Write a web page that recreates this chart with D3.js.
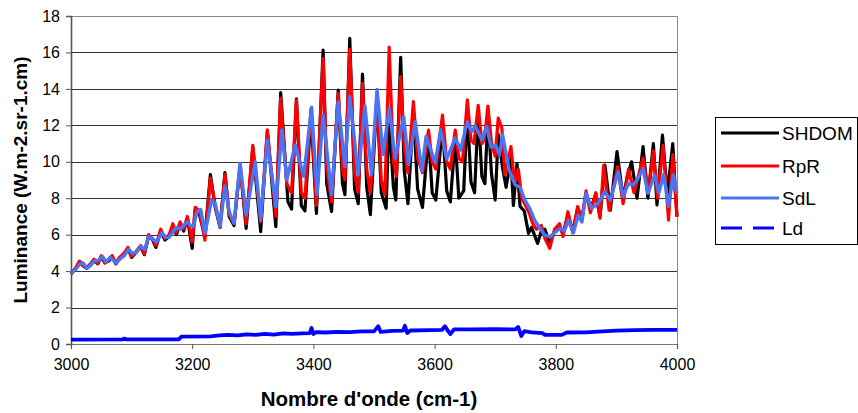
<!DOCTYPE html>
<html><head><meta charset="utf-8">
<script src="https://cdn.jsdelivr.net/npm/d3@7"></script>
<style>body{margin:0;background:#fff}svg{display:block}text{font-family:"Liberation Sans",Arial,sans-serif}</style>
</head><body><svg id="c" width="858" height="413"></svg>
<script>
const xTicks = [3000, 3200, 3400, 3600, 3800, 4000];
const yTicks = [0, 2, 4, 6, 8, 10, 12, 14, 16, 18];
const seriesNames = ["SHDOM", "RpR", "SdL", "Ld"];
const seriesColors = ["#000000", "#ff0000", "#4a74f2", "#0000ff"];

const shdom = [[3000,3.85],[3008,4.15],[3014,4.5],[3020,4.3],[3026,4.15],[3032,4.35],[3038,4.55],[3044,4.4],[3050,4.75],[3056,4.45],[3062,4.55],[3068,4.75],[3074,4.4],[3080,4.7],[3088,4.9],[3094,5.25],[3100,4.75],[3108,5.05],[3115,5.35],[3121,4.9],[3128,5.9],[3134,5.75],[3140,5.3],[3148,6.2],[3155,5.7],[3162,5.9],[3168,6.5],[3174,6.0],[3180,6.6],[3186,6.2],[3192,6.9],[3200,5.25],[3205,7.4],[3212,7.1],[3221,5.9],[3230,9.3],[3238,7.5],[3246,6.4],[3254,9.4],[3261,7.0],[3269,6.5],[3279,9.8],[3289,6.35],[3300,10.8],[3313,6.17],[3324,11.66],[3338,6.44],[3346,13.8],[3358,7.8],[3364,7.4],[3372,13.46],[3380,7.6],[3386,7.3],[3396,12.6],[3405,7.17],[3416,16.13],[3422,8.8],[3430,7.27],[3441,13.94],[3448,8.8],[3452,8.2],[3460,16.78],[3468,8.5],[3474,7.7],[3481,14.81],[3488,8.6],[3494,7.1],[3505,13.6],[3512,8.3],[3520,7.45],[3525,12.5],[3532,8.6],[3536,7.9],[3544,15.73],[3550,9.5],[3556,7.7],[3565,12.7],[3572,8.5],[3580,7.5],[3590,11.5],[3596,8.3],[3602,7.9],[3613,12.0],[3620,8.4],[3626,7.8],[3634,11.3],[3640,8.0],[3648,8.4],[3654,12.8],[3660,8.9],[3666,8.3],[3672,12.8],[3678,9.2],[3683,8.8],[3688,12.6],[3694,9.3],[3700,7.9],[3705,11.5],[3712,9.7],[3718,8.6],[3726,10.2],[3730,7.6],[3736,9.9],[3741,7.55],[3748,7.3],[3755,6.07],[3760,6.4],[3770,5.52],[3776,6.2],[3782,6.3],[3790,5.5],[3798,6.2],[3806,6.5],[3812,6.1],[3820,7.0],[3828,6.2],[3836,7.4],[3843,6.8],[3850,8.3],[3857,7.4],[3866,8.2],[3873,7.0],[3881,9.82],[3890,7.34],[3901,10.56],[3911,8.0],[3918,9.2],[3925,10.0],[3934,8.0],[3944,10.83],[3952,8.0],[3961,11.0],[3967,7.63],[3976,11.47],[3984,8.2],[3993,11.0],[3998,8.0],[4000,7.0]];

const rpr = [[3000,3.85],[3008,4.2],[3014,4.55],[3020,4.3],[3026,4.2],[3032,4.4],[3038,4.65],[3044,4.4],[3050,4.85],[3056,4.45],[3062,4.6],[3068,4.85],[3074,4.45],[3080,4.75],[3088,5.0],[3094,5.3],[3100,4.8],[3108,5.1],[3115,5.4],[3121,4.95],[3128,6.0],[3134,5.8],[3140,5.4],[3148,6.3],[3155,5.8],[3162,6.0],[3168,6.6],[3174,6.1],[3180,6.7],[3186,6.3],[3192,7.0],[3200,5.6],[3205,7.5],[3212,7.3],[3221,5.7],[3230,9.1],[3238,7.6],[3246,6.4],[3254,9.3],[3261,7.1],[3269,6.6],[3279,9.7],[3289,6.6],[3300,10.9],[3313,6.7],[3324,11.75],[3338,7.0],[3346,13.5],[3356,8.8],[3364,8.3],[3372,13.4],[3380,8.3],[3386,8.0],[3396,12.9],[3405,7.6],[3416,15.68],[3422,9.6],[3430,7.8],[3441,13.75],[3448,9.6],[3452,9.0],[3460,16.17],[3468,9.4],[3474,8.3],[3481,14.3],[3488,9.6],[3494,8.3],[3505,13.4],[3512,9.0],[3518,8.2],[3525,16.3],[3532,10.0],[3537,9.2],[3544,14.67],[3550,10.8],[3556,9.4],[3565,13.3],[3572,10.2],[3580,9.4],[3590,11.74],[3596,10.0],[3602,9.6],[3613,12.56],[3620,10.0],[3626,9.6],[3634,11.74],[3640,10.2],[3646,10.0],[3654,13.4],[3660,11.2],[3665,11.0],[3672,13.1],[3678,11.0],[3682,11.2],[3688,13.06],[3694,11.0],[3700,10.3],[3705,12.4],[3711,11.84],[3716,9.3],[3726,10.83],[3732,8.8],[3738,9.6],[3744,8.0],[3750,7.6],[3756,7.2],[3762,6.6],[3768,6.3],[3776,6.5],[3782,5.8],[3790,5.25],[3798,6.3],[3806,6.6],[3812,5.9],[3820,7.26],[3828,6.1],[3836,7.54],[3843,6.9],[3850,8.4],[3857,7.2],[3866,8.3],[3873,6.9],[3879,9.8],[3888,7.34],[3902,9.73],[3911,7.7],[3920,9.6],[3929,8.3],[3944,10.2],[3953,8.3],[3961,10.6],[3968,8.0],[3977,10.9],[3986,6.8],[3993,10.4],[4000,6.98]];

const sdl = [[3000,3.88],[3008,4.1],[3015,4.4],[3020,4.45],[3026,4.15],[3032,4.3],[3038,4.55],[3046,4.6],[3052,4.8],[3058,4.5],[3064,4.75],[3070,4.6],[3075,4.45],[3082,4.7],[3088,4.85],[3095,5.2],[3102,4.95],[3108,5.05],[3115,5.35],[3122,5.2],[3128,5.9],[3135,5.75],[3141,5.6],[3150,6.1],[3156,5.85],[3162,5.85],[3169,6.2],[3175,6.4],[3180,6.3],[3186,6.5],[3192,6.7],[3197,6.5],[3202,6.45],[3208,7.26],[3214,7.38],[3221,6.07],[3232,7.9],[3238,7.7],[3246,6.44],[3254,8.67],[3261,7.26],[3269,6.63],[3279,9.92],[3289,7.07],[3304,10.0],[3313,6.8],[3324,11.2],[3338,7.54],[3348,11.75],[3356,9.0],[3370,10.92],[3384,9.2],[3397,13.0],[3406,8.2],[3416,12.56],[3430,8.2],[3441,13.3],[3452,9.73],[3460,13.58],[3474,9.28],[3485,13.06],[3496,9.3],[3505,13.97],[3515,10.4],[3525,12.93],[3535,10.2],[3549,12.47],[3557,9.85],[3568,12.2],[3579,9.5],[3586,11.4],[3601,9.95],[3610,11.75],[3620,10.15],[3634,11.3],[3643,10.65],[3654,12.2],[3661,11.65],[3667,11.97],[3678,11.2],[3686,11.95],[3693,10.8],[3701,10.9],[3707,10.37],[3712,11.5],[3723,9.55],[3733,8.73],[3741,8.6],[3749,7.9],[3757,7.44],[3765,6.8],[3775,6.3],[3782,5.97],[3790,5.88],[3798,6.1],[3807,6.35],[3814,6.2],[3821,6.8],[3829,6.1],[3837,7.07],[3843,6.7],[3850,8.27],[3859,7.44],[3870,7.7],[3881,8.36],[3890,7.9],[3903,9.46],[3911,8.1],[3920,8.8],[3927,8.72],[3934,8.99],[3944,9.63],[3952,8.27],[3963,9.27],[3970,8.3],[3978,9.3],[3986,7.54],[3994,9.27],[4000,8.27]];

const ld = [[3000,0.24],[3085,0.25],[3088,0.3],[3092,0.25],[3178,0.26],[3182,0.4],[3230,0.42],[3245,0.47],[3260,0.5],[3275,0.47],[3290,0.53],[3305,0.5],[3320,0.55],[3335,0.52],[3350,0.58],[3365,0.56],[3380,0.58],[3394,0.6],[3397,0.88],[3400,0.55],[3404,0.65],[3420,0.63],[3440,0.67],[3460,0.65],[3480,0.69],[3500,0.69],[3507,0.98],[3511,0.66],[3530,0.72],[3548,0.73],[3551,1.0],[3555,0.6],[3560,0.74],[3595,0.76],[3612,0.77],[3617,0.98],[3622,0.72],[3626,0.55],[3632,0.8],[3660,0.8],[3700,0.81],[3733,0.8],[3738,0.93],[3743,0.44],[3748,0.7],[3760,0.64],[3778,0.6],[3782,0.5],[3810,0.5],[3818,0.63],[3850,0.64],[3870,0.68],[3900,0.73],[3930,0.76],[3960,0.77],[4000,0.78]];

const svg = d3.select("#c");
const L = 71, R = 677, T = 16, B = 344;
const x = d3.scaleLinear().domain([3000, 4000]).range([L, R]);
const y = d3.scaleLinear().domain([0, 18]).range([B, T]);

svg.append("rect").attr("width", 858).attr("height", 413).attr("fill", "#fff");

// gridlines
svg.append("g").selectAll("line").data(yTicks.filter(d => d > 0 && d < 18)).join("line")
  .attr("x1", L).attr("x2", R).attr("y1", d => Math.round(y(d)) + 0.5).attr("y2", d => Math.round(y(d)) + 0.5)
  .attr("stroke", "#333").attr("stroke-width", 1);
// top & right border
svg.append("line").attr("x1", L).attr("x2", R).attr("y1", T + 0.5).attr("y2", T + 0.5).attr("stroke", "#888");
svg.append("line").attr("x1", R + 0.5).attr("x2", R + 0.5).attr("y1", T).attr("y2", B).attr("stroke", "#888");

// axes
const xAxis = d3.axisBottom(x).tickValues(xTicks).tickSize(5).tickPadding(10).tickFormat(d3.format("d"));
const gx = svg.append("g").attr("transform", `translate(0,${B})`).call(xAxis);
gx.select(".domain").attr("stroke", "#777").attr("stroke-width", 1.2);
gx.selectAll(".tick line").attr("stroke", "#555");
gx.selectAll("text").attr("font-size", 16).attr("fill", "#000").attr("font-family", '"Liberation Sans", Arial, sans-serif');

const yAxis = d3.axisLeft(y).tickValues(yTicks).tickSize(5).tickPadding(6);
const gy = svg.append("g").attr("transform", `translate(${L},0)`).call(yAxis);
gy.select(".domain").attr("stroke", "#555").attr("stroke-width", 1.6);
gy.selectAll(".tick line").attr("stroke", "#555");
gy.selectAll("text").attr("font-size", 16).attr("fill", "#000").attr("font-family", '"Liberation Sans", Arial, sans-serif');

// lines
const line = d3.line().x(d => x(d[0])).y(d => y(d[1]));
const plotData = [shdom, rpr, sdl, ld];
const widths = [3.2, 3.2, 3.4, 3.8];
plotData.forEach((data, i) => {
  svg.append("path").datum(data).attr("d", line).attr("fill", "none")
    .attr("stroke", seriesColors[i]).attr("stroke-width", widths[i]).attr("stroke-linejoin", "round");
});

// axis titles
svg.append("text").attr("x", 369).attr("y", 406).attr("text-anchor", "middle")
  .attr("font-size", 20.5).attr("font-weight", "bold").text("Nombre d'onde (cm-1)");
svg.append("text").attr("transform", `translate(27,${(T + B) / 2}) rotate(-90)`).attr("text-anchor", "middle")
  .attr("font-size", 19).attr("font-weight", "bold").text("Luminance (W.m-2.sr-1.cm)");

// legend
const lg = svg.append("g");
lg.append("rect").attr("x", 715.5).attr("y", 117.5).attr("width", 142).attr("height", 127)
  .attr("fill", "#fff").attr("stroke", "#000").attr("stroke-width", 1);
const rowsY = [133, 166, 198, 228];
seriesNames.forEach((n, i) => {
  const ln = lg.append("line").attr("x1", 721).attr("x2", 779).attr("y1", rowsY[i]).attr("y2", rowsY[i])
    .attr("stroke", seriesColors[i]).attr("stroke-width", 3);
  if (i === 3) ln.attr("stroke-dasharray", "21,11");
  lg.append("text").attr("x", 782).attr("y", rowsY[i] + 7).attr("font-size", 19).text(n);
});
</script></body></html>
